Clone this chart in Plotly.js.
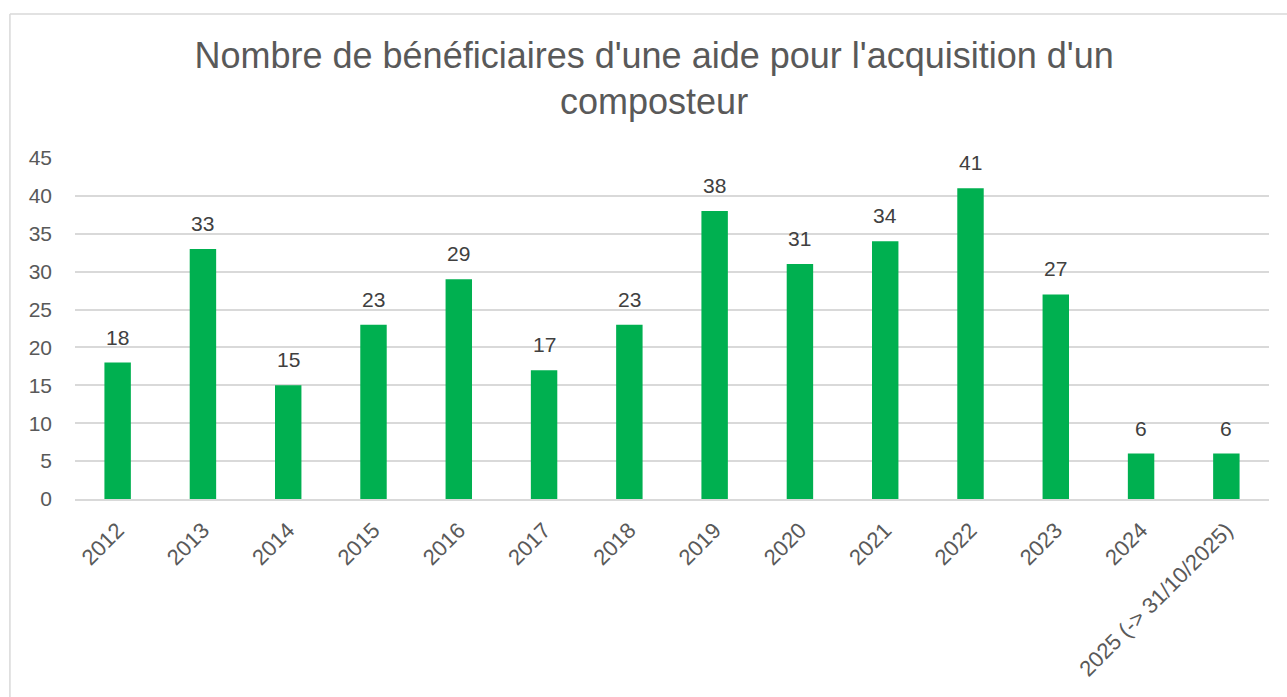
<!DOCTYPE html>
<html>
<head>
<meta charset="utf-8">
<script src="https://cdn.plot.ly/plotly-3.0.1.min.js"></script>
<style>
  html, body { margin: 0; padding: 0; background: #ffffff; }
  #chart { width: 1287px; height: 697px; }
</style>
</head>
<body>
<div id="chart"></div>
<script>
const categories = ["2012", "2013", "2014", "2015", "2016", "2017", "2018", "2019", "2020", "2021", "2022", "2023", "2024", "2025 (-> 31/10/2025)"];
const values = [18, 33, 15, 23, 29, 17, 23, 38, 31, 34, 41, 27, 6, 6];
const yTicks = [0, 5, 10, 15, 20, 25, 30, 35, 40, 45];
const titleText = "Nombre de bénéficiaires d'une aide pour l'acquisition d'un<br>composteur";

const FONT = "Liberation Sans, Arial, sans-serif";

const trace = {
  type: "bar",
  x: categories,
  y: values,
  marker: { color: "#00B050" },
  hoverinfo: "x+y",
  showlegend: false
};

const annotations = categories.map((c, i) => ({
  x: i,
  y: values[i],
  xref: "x",
  yref: "y",
  text: String(values[i]),
  showarrow: false,
  yanchor: "bottom",
  yshift: 12,
  font: { family: FONT, size: 21, color: "#404040" }
}));

const layout = {
  width: 1287,
  height: 697,
  paper_bgcolor: "#ffffff",
  plot_bgcolor: "#ffffff",
  margin: { l: 75, r: 18, t: 158, b: 198, pad: 0 },
  bargap: 0.69,
  title: {
    text: titleText,
    x: 0.485,
    xref: "paper",
    xanchor: "center",
    y: 0.903,
    yref: "container",
    yanchor: "middle",
    font: { family: FONT, size: 36, color: "#595959" }
  },
  xaxis: {
    type: "category",
    range: [-0.5, categories.length - 0.5],
    tickangle: -45,
    tickfont: { family: FONT, size: 22, color: "#595959" },
    showgrid: false,
    showline: true,
    linecolor: "#d9d9d9",
    linewidth: 1.5,
    ticks: "",
    ticklabelstandoff: 8,
    automargin: false
  },
  yaxis: {
    range: [0, 45],
    tickvals: yTicks,
    ticktext: yTicks.map(String),
    tickfont: { family: FONT, size: 21, color: "#595959" },
    showgrid: true,
    gridcolor: "#d9d9d9",
    gridwidth: 1.5,
    zeroline: false,
    showline: false,
    ticks: "",
    ticklabelstandoff: 22,
    automargin: false
  },
  annotations: annotations,
  shapes: [
    {
      type: "line", xref: "paper", yref: "paper",
      x0: -0.0545, x1: 1.05, y0: 1.422, y1: 1.422,
      line: { color: "#d9d9d9", width: 1.5 }
    },
    {
      type: "line", xref: "paper", yref: "paper",
      x0: -0.0545, x1: -0.0545, y0: 1.422, y1: -0.6,
      line: { color: "#d9d9d9", width: 1.5 }
    }
  ]
};

Plotly.newPlot("chart", [trace], layout, { displayModeBar: false });
</script>
</body>
</html>
